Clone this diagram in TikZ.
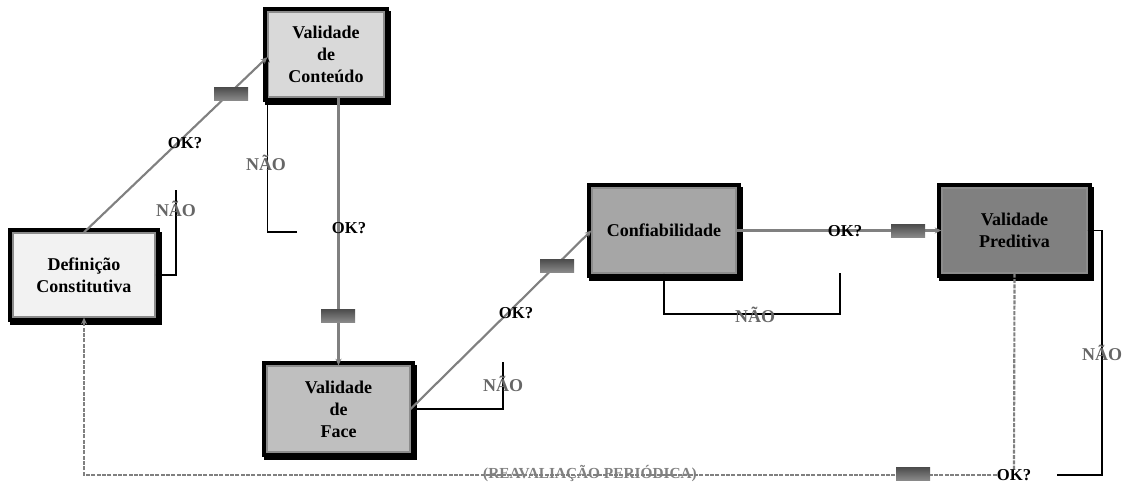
\documentclass[tikz,border=0pt]{standalone}
\usepackage{fontspec}
\setmainfont{Liberation Serif}
\usetikzlibrary{arrows.meta,shadows}

\tikzset{
  stage/.style={general shadow={fill=black,draw=black,line width=7pt,shadow xshift=1.5pt,shadow yshift=-2.5pt},
    preaction={draw=black,line width=7pt},
    draw=black!45, line width=1pt, align=center, inner sep=0pt,
    font=\fontsize{13.5}{16.5}\selectfont\bfseries},
  link/.style={draw=black!50, line width=1.6pt, -{Stealth[length=5pt,width=4.5pt]}},
  periodic/.style={link, dash pattern=on 3pt off 1pt},
  back/.style={draw=black, line width=0.8pt, -{Stealth[length=4pt,width=3.5pt]}},
  ok/.style={font=\fontsize{12.5}{14}\selectfont\bfseries, inner sep=0pt},
  nao/.style={font=\fontsize{13.5}{15}\selectfont\bfseries, text=black!60, inner sep=0pt},
  bar/.style={minimum width=25.5pt, minimum height=10pt, inner sep=0pt, top color=black!70, bottom color=black!45}
}

\begin{document}
\begin{tikzpicture}[x=0.75pt,y=-0.75pt]
\useasboundingbox (0,0) rectangle (1123,483);
%----stages----------------------------------------
\node[stage, fill=black!5, minimum width=106.5pt, minimum height=63pt] (defi) at (84,275) {Definição\\Constitutiva};
\node[stage, fill=black!15, minimum width=87pt, minimum height=63.75pt] (cont) at (326,54.5) {Validade\\de\\Conteúdo};
\node[stage, fill=black!25, minimum width=107.25pt, minimum height=64.5pt] (face) at (338.5,409) {Validade\\de\\Face};
\node[stage, fill=black!35, minimum width=108pt, minimum height=63.75pt] (conf) at (664,230.5) {Confiabilidade};
\node[stage, fill=black!50, minimum width=108.75pt, minimum height=63.75pt] (pred) at (1014.5,230.5) {Validade\\Preditiva};
\node[ok] (okBack) at (1014,475) {OK?};
%----free ends of the loops------------------------
\coordinate (defiFree) at (176,190);
\coordinate (contFree) at (297,232);
\coordinate (faceFree) at (503,362);
\coordinate (confFree) at (840,273);
\coordinate (predFree) at (1057,475);
\coordinate (predTurn) at (1102,475);
%----NAO loops-------------------------------------
\draw[back] (defiFree) |- (defi.east);
\draw[back] (contFree) -| ([yshift=-2pt]cont.west);
\draw[back] (faceFree) |- (face.east);
\draw[back] (confFree) -- ++(0,41) -| (conf.south);
\draw[back] (predFree) -- (predTurn) |- (pred.east);
%----main path-------------------------------------
\draw[link] (defi.north) -- ([yshift=-2pt]cont.west);
\draw[link] (cont.south -| face.north) -- (face.north);
\draw[link] (face.east) -- (conf.west);
\draw[link] (conf.east) -- (pred.west);
\draw[periodic, -] (pred.south) -- (okBack.north);
\draw[periodic] (okBack.west) -| (defi.south);
%----bars------------------------------------------
\node[bar] (bar1) at (231,94) {};
\node[bar] (bar2) at (338,316) {};
\node[bar] (bar3) at (557,266) {};
\node[bar] (bar4) at (908,231) {};
\node[bar] (bar5) at (913,474) {};
%----text------------------------------------------
\node[ok] (ok1) at (185,143) {OK?};
\node[ok] (ok2) at (349,228) {OK?};
\node[ok] (ok3) at (516,313) {OK?};
\node[ok] (ok4) at (845,231) {OK?};
\node[nao] (nao1) at (176,209) {NÃO};
\node[nao] (nao2) at (266,163) {NÃO};
\node[nao] (nao3) at (503,384) {NÃO};
\node[nao] (nao4) at (755,315) {NÃO};
\node[nao] (nao5) at (1102,353) {NÃO};
\node[font=\fontsize{11.5}{14}\selectfont\bfseries, text=black!50, inner sep=0pt] (reav) at (590,474) {(REAVALIAÇÃO PERIÓDICA)};
\end{tikzpicture}
\end{document}
